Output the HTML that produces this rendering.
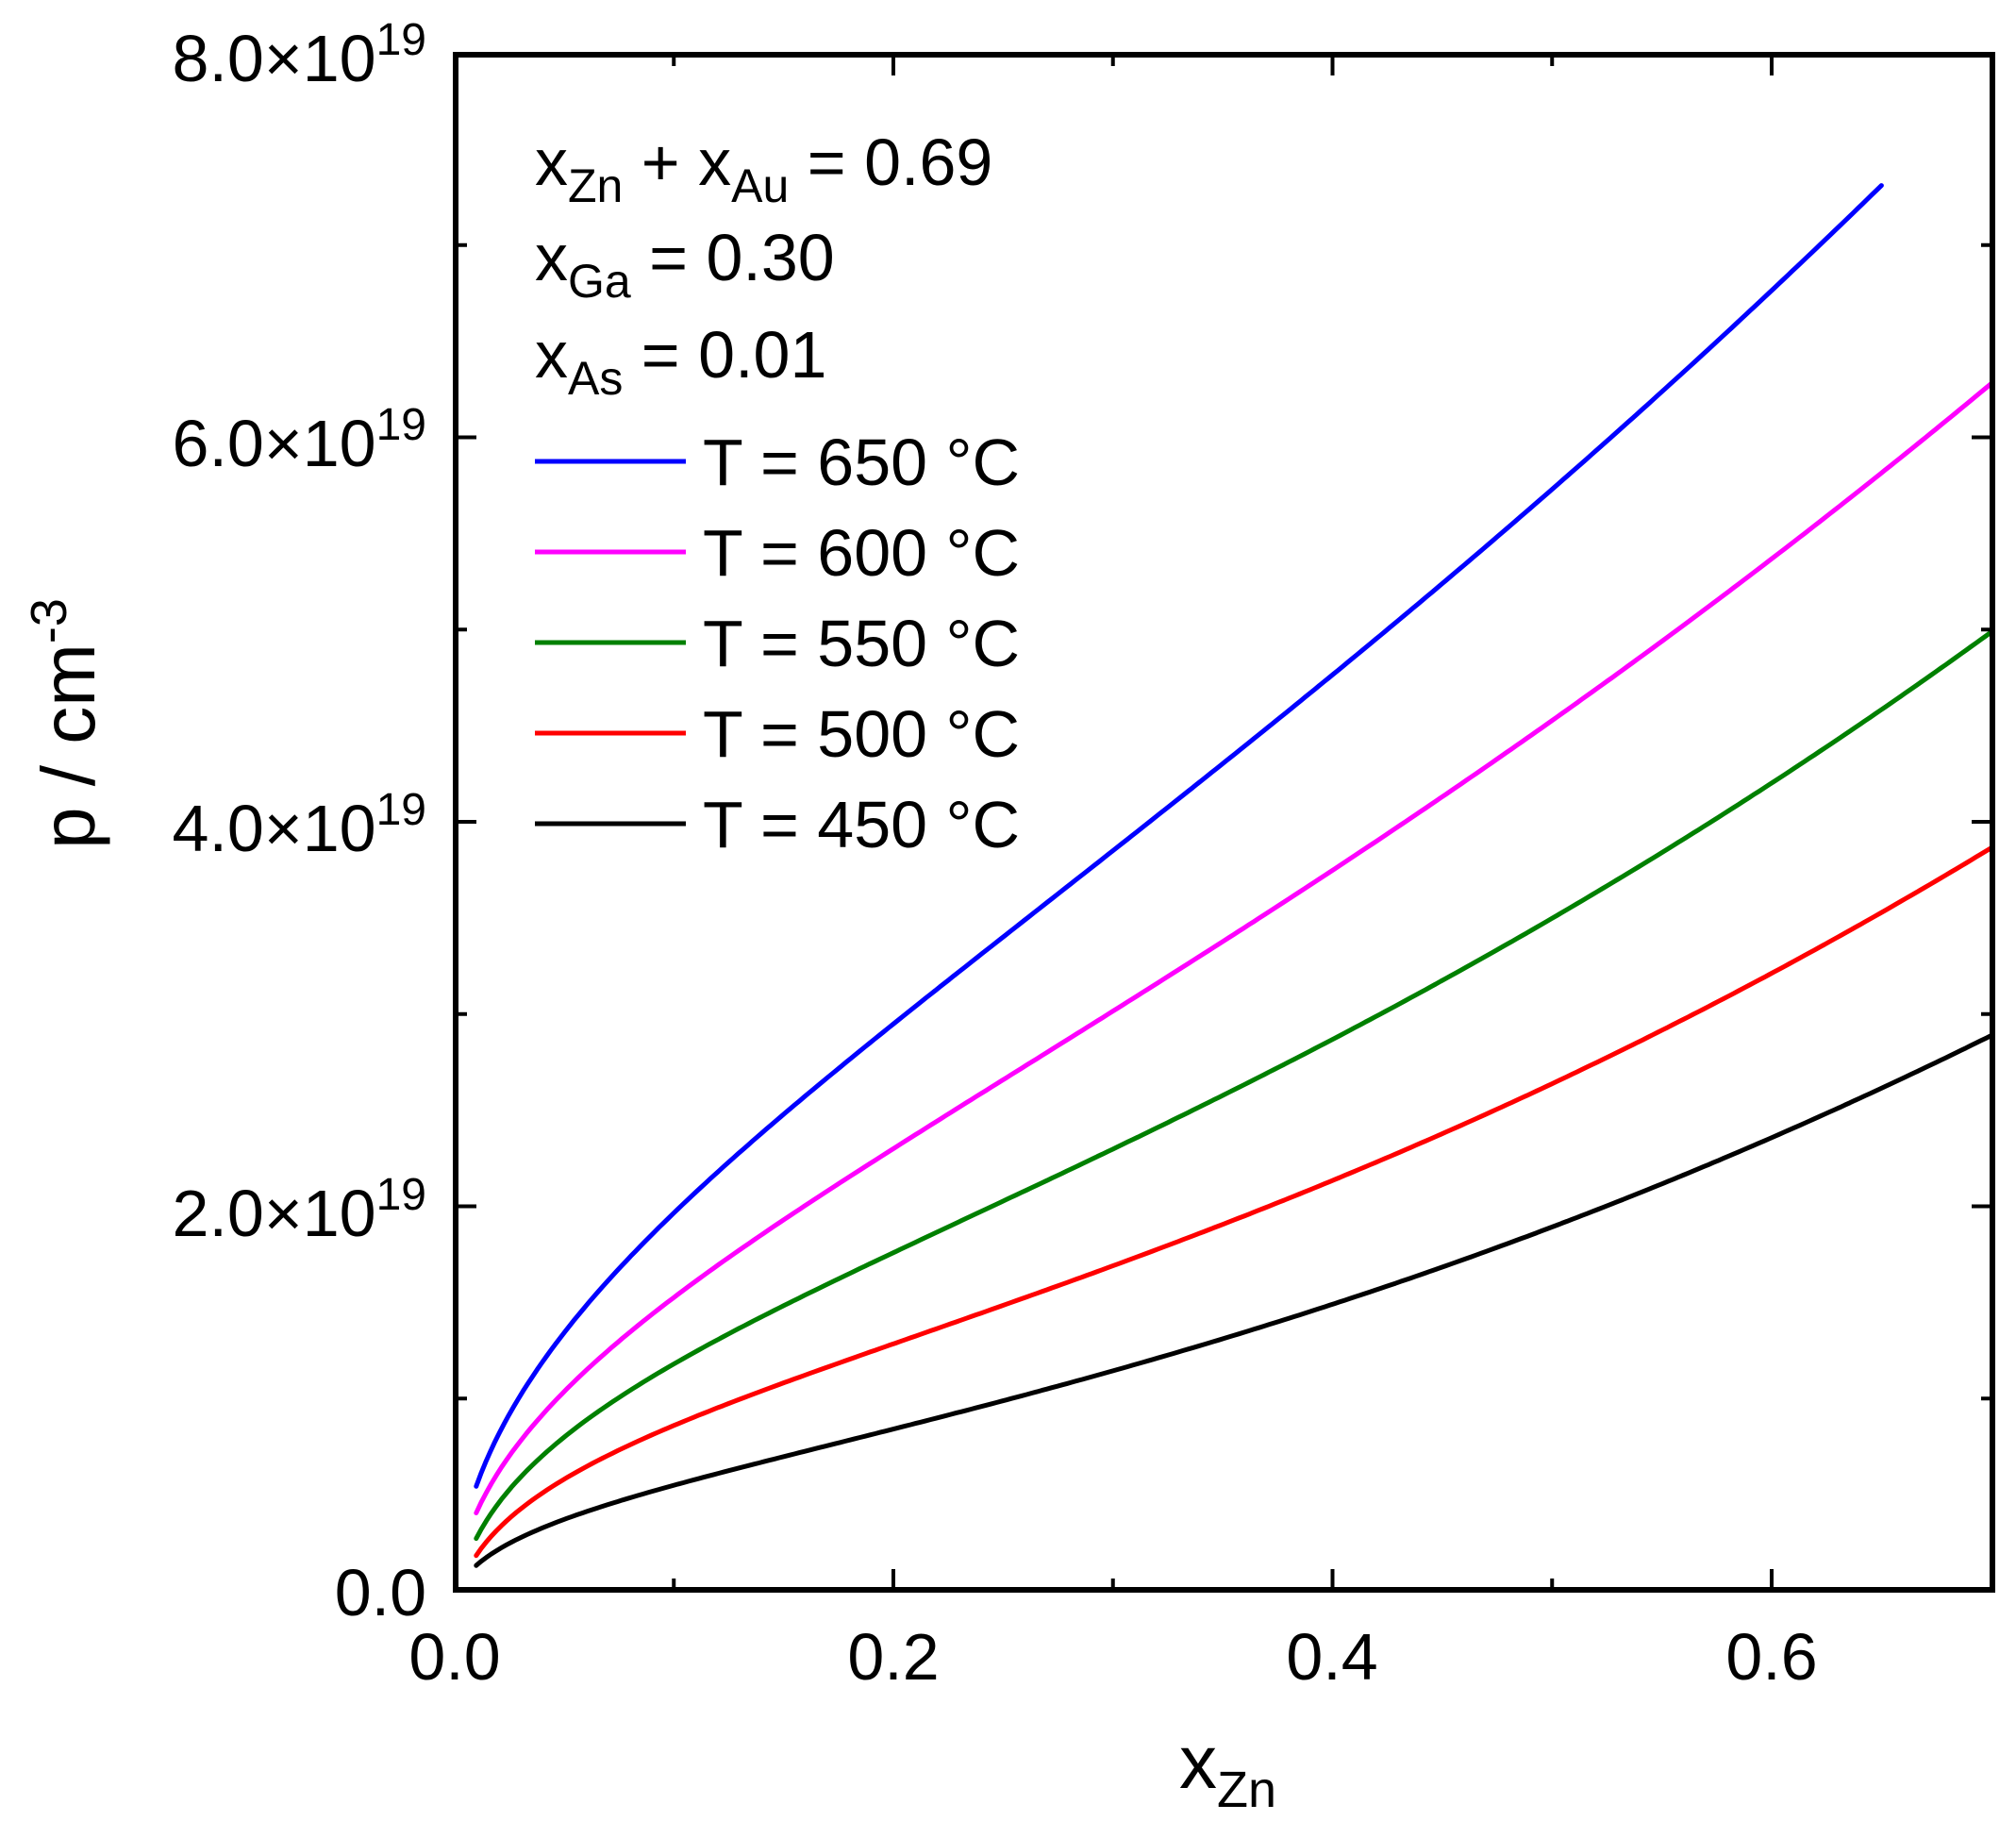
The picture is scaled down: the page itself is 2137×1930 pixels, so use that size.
<!DOCTYPE html>
<html><head><meta charset="utf-8"><style>
html,body{margin:0;padding:0;background:#fff}
svg{display:block}
text{font-family:"Liberation Sans",Arial,sans-serif;fill:#000}
</style></head><body>
<svg id="s" width="2137" height="1930" viewBox="0 0 2137 1930" xmlns="http://www.w3.org/2000/svg">
<g id="curves" fill="none" stroke-width="5" stroke-linejoin="round" stroke-linecap="round"></g>
<rect x="483" y="58" width="1629" height="1627" fill="none" stroke="#000" stroke-width="6"/>
<g id="ticks" stroke="#000" stroke-width="4"></g>
<g font-size="70">
<text x="452" y="86" text-anchor="end">8.0×10<tspan font-size="48" dy="-28">19</tspan></text>
<text x="452" y="494" text-anchor="end">6.0×10<tspan font-size="48" dy="-28">19</tspan></text>
<text x="452" y="902" text-anchor="end">4.0×10<tspan font-size="48" dy="-28">19</tspan></text>
<text x="452" y="1310" text-anchor="end">2.0×10<tspan font-size="48" dy="-28">19</tspan></text>
<text x="452" y="1712" text-anchor="end">0.0</text>
<text x="482" y="1780" text-anchor="middle">0.0</text>
<text x="947" y="1780" text-anchor="middle">0.2</text>
<text x="1412" y="1780" text-anchor="middle">0.4</text>
<text x="1878" y="1780" text-anchor="middle">0.6</text>
<text x="1250" y="1895" font-size="80">x<tspan font-size="54" dy="20">Zn</tspan></text>
<text transform="translate(100,767) rotate(-90)" text-anchor="middle" font-size="80">p / cm<tspan font-size="54" dy="-30">-3</tspan></text>
<text x="567" y="196">x<tspan font-size="50" dy="18">Zn</tspan><tspan dy="-18"> + x</tspan><tspan font-size="50" dy="18">Au</tspan><tspan dy="-18"> = 0.69</tspan></text>
<text x="567" y="297">x<tspan font-size="50" dy="18">Ga</tspan><tspan dy="-18"> = 0.30</tspan></text>
<text x="567" y="400">x<tspan font-size="50" dy="18">As</tspan><tspan dy="-18"> = 0.01</tspan></text>
<text x="745" y="514">T = 650 °C</text>
<text x="745" y="610">T = 600 °C</text>
<text x="745" y="706">T = 550 °C</text>
<text x="745" y="802">T = 500 °C</text>
<text x="745" y="898">T = 450 °C</text>
</g>
<g stroke-width="5">
<line x1="567" y1="489" x2="727" y2="489" stroke="#0000ff"/>
<line x1="567" y1="585" x2="727" y2="585" stroke="#ff00ff"/>
<line x1="567" y1="681" x2="727" y2="681" stroke="#008000"/>
<line x1="567" y1="777" x2="727" y2="777" stroke="#ff0000"/>
<line x1="567" y1="873" x2="727" y2="873" stroke="#000000"/>
</g>
</svg>
<script>
var X=function(x){return 481.5+x*2327.5}, Y=function(v){return 1686-v*203.75};
var xs=[0.01,0.03,0.05,0.1,0.2,0.3,0.4,0.5,0.6,0.7];
var data=[
["#0000ff",[0.55,0.97,1.38,1.98,2.95,3.79,4.80,5.75,6.76,7.30],0.65],
["#ff00ff",[0.42,0.77,1.02,1.51,2.32,3.05,3.72,4.53,5.34,6.30]],
["#008000",[0.30,0.57,0.77,1.17,1.78,2.35,2.85,3.46,4.19,5.01]],
["#ff0000",[0.20,0.40,0.57,0.87,1.31,1.68,2.11,2.65,3.22,3.86]],
["#000000",[0.13,0.27,0.37,0.57,0.84,1.12,1.48,1.91,2.38,2.87]]];
function solve(A,b){var n=b.length;for(var i=0;i<n;i++){var m=i;for(var k=i+1;k<n;k++)if(Math.abs(A[k][i])>Math.abs(A[m][i]))m=k;var t=A[i];A[i]=A[m];A[m]=t;t=b[i];b[i]=b[m];b[m]=t;for(var k=i+1;k<n;k++){var f=A[k][i]/A[i][i];for(var j=i;j<n;j++)A[k][j]-=f*A[i][j];b[k]-=f*b[i];}}var x=new Array(n);for(var i=n-1;i>=0;i--){var s=b[i];for(var j=i+1;j<n;j++)s-=A[i][j]*x[j];x[i]=s/A[i][i];}return x;}
function basis(x){return [Math.sqrt(x),x,x*x,1];}
var g=document.getElementById('curves'),NS="http://www.w3.org/2000/svg";
data.forEach(function(d){
 var px=xs.slice(),py=d[1];if(d[2])px[9]=d[2];
 var A=[[0,0,0,0],[0,0,0,0],[0,0,0,0],[0,0,0,0]],b=[0,0,0,0];
 px.forEach(function(x,i){var f=basis(x);for(var r=0;r<4;r++){b[r]+=f[r]*py[i];for(var c=0;c<4;c++)A[r][c]+=f[r]*f[c];}});
 var co=solve(A,b),xe=px[9],s="";
 for(var k=0;k<=300;k++){var x=0.01+(xe-0.01)*k/300,f=basis(x),v=0;for(var r=0;r<4;r++)v+=co[r]*f[r];s+=(k?" L":"M")+X(x).toFixed(1)+","+Y(v).toFixed(1);}
 var p=document.createElementNS(NS,"path");p.setAttribute("d",s);p.setAttribute("stroke",d[0]);g.appendChild(p);
});
var t=document.getElementById('ticks'),h="";
function L(a,b,c,d){h+='<line x1="'+a+'" y1="'+b+'" x2="'+c+'" y2="'+d+'"/>';}
for(var k=1;k<7;k++){var x=X(k*0.1),len=(k%2==0)?22:12;L(x,1685,x,1685-len);L(x,58,x,58+len);}
for(var k=1;k<8;k++){var y=Y(k),len=(k%2==0)?22:12;L(483,y,483+len,y);L(2112,y,2112-len,y);}
t.innerHTML=h;
</script>
</body></html>
